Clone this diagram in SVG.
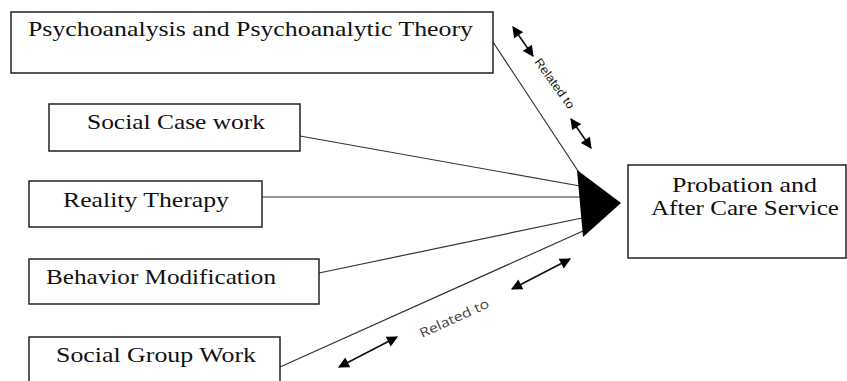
<svg xmlns="http://www.w3.org/2000/svg" width="847" height="381" viewBox="0 0 847 381">
<defs>
<marker id="ah" viewBox="0 0 10 10" refX="9" refY="5" markerWidth="12" markerHeight="11" markerUnits="userSpaceOnUse" orient="auto-start-reverse">
<path d="M0,0 L10,5 L0,10 z" fill="#000"/>
</marker>
<style>
.box{fill:#fff;stroke:#222;stroke-width:1.5}
.t{font-family:"Liberation Serif","Times New Roman",serif;font-size:21px;fill:#111}
.c{stroke:#333;stroke-width:1.2;fill:none}
.dbl{stroke:#111;stroke-width:1.6;fill:none;marker-start:url(#ah);marker-end:url(#ah)}
.lbl{font-family:"Open Sans","Liberation Sans",sans-serif;font-size:13px;fill:#444}
.lbl2{font-family:"Liberation Sans",Arial,sans-serif;font-size:12px;fill:#1a1a1a}
</style>
</defs>
<rect width="847" height="381" fill="#fff"/>
<g id="connectors">
<line class="c" x1="493" y1="42" x2="580" y2="174"/>
<line class="c" x1="300" y1="136" x2="580" y2="186"/>
<line class="c" x1="262" y1="197" x2="581" y2="197"/>
<line class="c" x1="319" y1="273" x2="582" y2="218"/>
<line class="c" x1="280" y1="367" x2="583" y2="231"/>
<polygon points="577,170 621,203 583,237" fill="#000"/>
<line class="dbl" x1="513" y1="27" x2="533" y2="56"/>
<line class="dbl" x1="571" y1="119" x2="591" y2="148"/>
<line class="dbl" x1="339" y1="367" x2="397" y2="337"/>
<line class="dbl" x1="512" y1="289" x2="570" y2="259"/>
<text class="lbl2" x="0" y="0" textLength="59" lengthAdjust="spacingAndGlyphs" transform="translate(534,62) rotate(54)">Related to</text>
<text class="lbl" x="0" y="0" textLength="75" lengthAdjust="spacingAndGlyphs" transform="translate(422,338) rotate(-24.5)">Related to</text>
</g>
<g id="psychoanalysis">
<rect class="box" x="11" y="12" width="482" height="61"/>
<text class="t" x="28" y="36" textLength="445" lengthAdjust="spacingAndGlyphs">Psychoanalysis and Psychoanalytic Theory</text>
</g>
<g id="social-case-work">
<rect class="box" x="49" y="104" width="251" height="47"/>
<text class="t" x="87" y="129" textLength="178" lengthAdjust="spacingAndGlyphs">Social Case work</text>
</g>
<g id="reality-therapy">
<rect class="box" x="29" y="181" width="233" height="46"/>
<text class="t" x="63" y="207" textLength="166" lengthAdjust="spacingAndGlyphs">Reality Therapy</text>
</g>
<g id="behavior-modification">
<rect class="box" x="29" y="259" width="290" height="45"/>
<text class="t" x="46" y="284" textLength="230" lengthAdjust="spacingAndGlyphs">Behavior Modification</text>
</g>
<g id="social-group-work">
<rect class="box" x="29" y="337" width="251" height="60"/>
<text class="t" x="56" y="362" textLength="200" lengthAdjust="spacingAndGlyphs">Social Group Work</text>
</g>
<g id="probation">
<rect class="box" x="628" y="165" width="218" height="93"/>
<text class="t" x="672" y="192" textLength="145" lengthAdjust="spacingAndGlyphs">Probation and</text>
<text class="t" x="651" y="215" textLength="188" lengthAdjust="spacingAndGlyphs">After Care Service</text>
</g>
</svg>
